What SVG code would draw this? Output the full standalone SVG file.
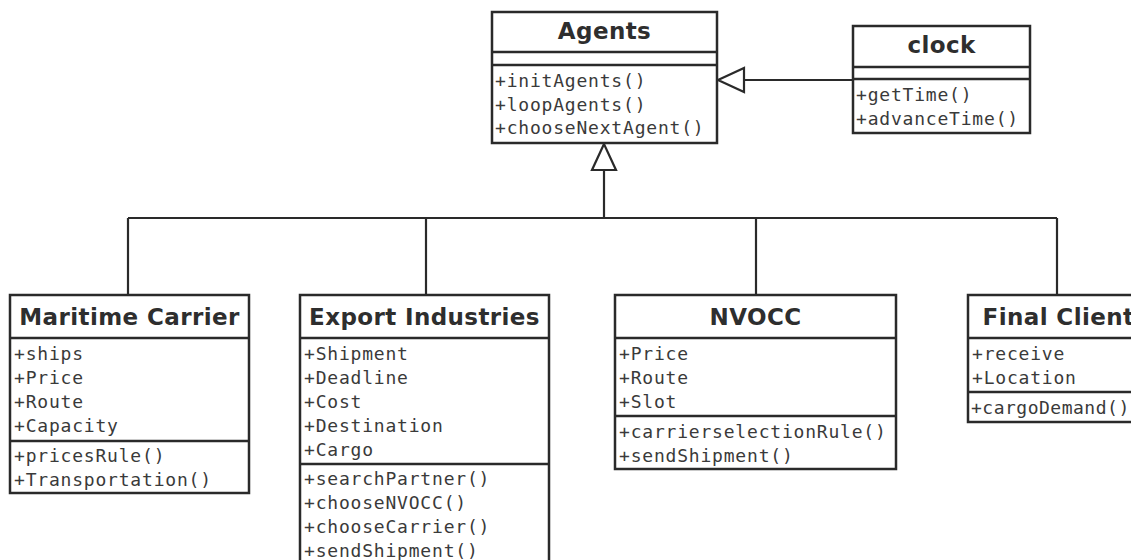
<svg xmlns="http://www.w3.org/2000/svg" width="1131" height="560" viewBox="0 0 1131 560">
<style>
.box{fill:#fff;stroke:#2a2a2a;stroke-width:2.5}
.div{stroke:#2a2a2a;stroke-width:2.5;fill:none}
.hd{font-family:"DejaVu Sans",sans-serif;font-weight:bold;font-size:23px;letter-spacing:0.4px;fill:#2e2e2e;text-anchor:middle}
.tx{font-family:"DejaVu Sans Mono",monospace;font-size:18px;letter-spacing:0.8px;fill:#3a3a3a}
.ln{stroke:#2a2a2a;stroke-width:2.2;fill:none}
.tri{fill:#fff;stroke:#2a2a2a;stroke-width:2.2;stroke-linejoin:miter}
</style>
<rect width="1131" height="560" fill="#fff"/>
<g id="connectors">
<line class="ln" x1="853" y1="80" x2="744" y2="80"/>
<polygon class="tri" points="718,80 744,68 744,92"/>
<polyline class="ln" points="604,170 604,218"/>
<polygon class="tri" points="604,144 592,170 616,170"/>
<line class="ln" x1="128" y1="218" x2="1057" y2="218"/>
<line class="ln" x1="128" y1="218" x2="128" y2="295"/>
<line class="ln" x1="426" y1="218" x2="426" y2="295"/>
<line class="ln" x1="756" y1="218" x2="756" y2="295"/>
<line class="ln" x1="1057" y1="218" x2="1057" y2="295"/>
</g>
<g id="agents">
<rect class="box" x="492" y="12" width="225" height="131"/>
<line class="div" x1="492" y1="52" x2="717" y2="52"/>
<line class="div" x1="492" y1="65" x2="717" y2="65"/>
<text class="hd" x="604.5" y="39">Agents</text>
<text class="tx" x="495" y="87">+initAgents()</text>
<text class="tx" x="495" y="110.5">+loopAgents()</text>
<text class="tx" x="495" y="134">+chooseNextAgent()</text>
</g>
<g id="clock">
<rect class="box" x="853" y="26" width="177" height="107"/>
<line class="div" x1="853" y1="67" x2="1030" y2="67"/>
<line class="div" x1="853" y1="79" x2="1030" y2="79"/>
<text class="hd" x="941.5" y="53">clock</text>
<text class="tx" x="856" y="101">+getTime()</text>
<text class="tx" x="856" y="125">+advanceTime()</text>
</g>
<g id="maritime-carrier">
<rect class="box" x="10" y="295" width="239" height="198"/>
<line class="div" x1="10" y1="338" x2="249" y2="338"/>
<line class="div" x1="10" y1="441" x2="249" y2="441"/>
<text class="hd" x="129.5" y="325">Maritime Carrier</text>
<text class="tx" x="14" y="360">+ships</text>
<text class="tx" x="14" y="384">+Price</text>
<text class="tx" x="14" y="408">+Route</text>
<text class="tx" x="14" y="432">+Capacity</text>
<text class="tx" x="14" y="462">+pricesRule()</text>
<text class="tx" x="14" y="486">+Transportation()</text>
</g>
<g id="export-industries">
<rect class="box" x="300" y="295" width="249" height="272"/>
<line class="div" x1="300" y1="338" x2="549" y2="338"/>
<line class="div" x1="300" y1="464" x2="549" y2="464"/>
<text class="hd" x="424.5" y="325">Export Industries</text>
<text class="tx" x="304" y="360">+Shipment</text>
<text class="tx" x="304" y="384">+Deadline</text>
<text class="tx" x="304" y="408">+Cost</text>
<text class="tx" x="304" y="432">+Destination</text>
<text class="tx" x="304" y="456">+Cargo</text>
<text class="tx" x="304" y="485">+searchPartner()</text>
<text class="tx" x="304" y="509">+chooseNVOCC()</text>
<text class="tx" x="304" y="533">+chooseCarrier()</text>
<text class="tx" x="304" y="557">+sendShipment()</text>
</g>
<g id="nvocc">
<rect class="box" x="615" y="295" width="281" height="174"/>
<line class="div" x1="615" y1="338" x2="896" y2="338"/>
<line class="div" x1="615" y1="416" x2="896" y2="416"/>
<text class="hd" x="755.5" y="325">NVOCC</text>
<text class="tx" x="619" y="360">+Price</text>
<text class="tx" x="619" y="384">+Route</text>
<text class="tx" x="619" y="408">+Slot</text>
<text class="tx" x="619" y="438">+carrierselectionRule()</text>
<text class="tx" x="619" y="462">+sendShipment()</text>
</g>
<g id="final-client">
<rect class="box" x="968" y="295" width="181" height="127"/>
<line class="div" x1="968" y1="338" x2="1149" y2="338"/>
<line class="div" x1="968" y1="392" x2="1149" y2="392"/>
<text class="hd" x="1058.5" y="325">Final Client</text>
<text class="tx" x="972" y="360">+receive</text>
<text class="tx" x="972" y="384">+Location</text>
<text class="tx" x="971" y="414" style="letter-spacing:0.5px">+cargoDemand()</text>
</g>
</svg>
